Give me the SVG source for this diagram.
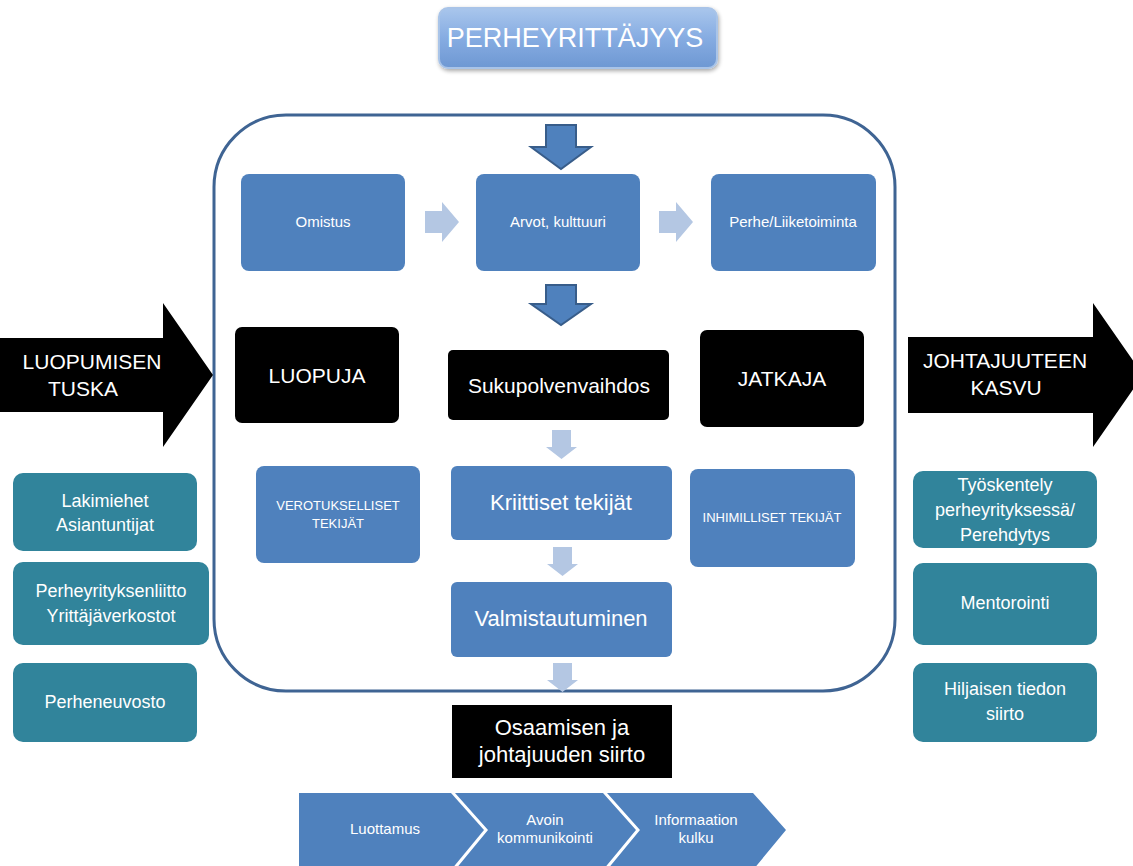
<svg xmlns="http://www.w3.org/2000/svg" width="1133" height="866" viewBox="0 0 1133 866">
<defs>
<linearGradient id="tg" x1="0" y1="0" x2="0" y2="1">
<stop offset="0" stop-color="#a9c6ec"/>
<stop offset="0.5" stop-color="#86ace2"/>
<stop offset="1" stop-color="#6e98d3"/>
</linearGradient>
<filter id="sh" x="-10%" y="-20%" width="120%" height="150%">
<feGaussianBlur in="SourceAlpha" stdDeviation="2"/>
<feOffset dx="1" dy="2"/>
<feComponentTransfer><feFuncA type="linear" slope="0.35"/></feComponentTransfer>
<feMerge><feMergeNode/><feMergeNode in="SourceGraphic"/></feMerge>
</filter>
<style>
text{font-family:"Liberation Sans",Arial,sans-serif;fill:#fff;text-anchor:middle}
.blue{fill:#4f81bd}
.teal{fill:#31849b}
.blk{fill:#000}
.light{fill:#b4c7e3}
.dark{fill:#4f81bd;stroke:#385d8a;stroke-width:2}
.s13{font-size:13px}
.s15{font-size:15px}
.s18{font-size:18px}
.s21{font-size:21px}
.s22{font-size:22px}
</style>
</defs>
<rect width="1133" height="866" fill="#fff"/>

<g id="title">
<rect x="439" y="8" width="278" height="60" rx="9" fill="url(#tg)" stroke="#a9c4e8" stroke-width="2" filter="url(#sh)"/>
<text x="575" y="47" style="font-size:27px">PERHEYRITTÄJYYS</text>
</g>

<g id="frame">
<rect x="214" y="115" width="681" height="576" rx="72" fill="none" stroke="#3f6493" stroke-width="3"/>
</g>

<g id="connectors">
<path class="dark" d="M546 125H576V147H591L561 169L531 147H546Z"/>
<path class="dark" d="M546 285H576V304H591L561 325L531 304H546Z"/>
<path class="light" d="M425 211H442V202L459 222L442 242V233H425Z"/>
<path class="light" d="M659 211H676V202L693 222L676 242V233H659Z"/>
<path class="light" d="M552 430H571V447H577L561.5 459L546 447H552Z"/>
<path class="light" d="M553 547H572V564H578L562.5 576L547 564H553Z"/>
<path class="light" d="M553 663H572V680H578L562.5 692L547 680H553Z"/>
</g>

<g id="omistus">
<rect class="blue" x="241" y="174" width="164" height="97" rx="8"/>
<text class="s15" x="323" y="227">Omistus</text>
</g>
<g id="arvot">
<rect class="blue" x="476" y="174" width="164" height="97" rx="8"/>
<text class="s15" x="558" y="227">Arvot, kulttuuri</text>
</g>
<g id="perhe">
<rect class="blue" x="711" y="174" width="165" height="97" rx="8"/>
<text class="s15" x="793" y="227">Perhe/Liiketoiminta</text>
</g>

<g id="luopumisen">
<path class="blk" d="M0 338H163V303L213 375L163 447V412H0Z"/>
<text class="s21" x="92" y="369">LUOPUMISEN</text>
<text class="s21" x="83" y="396">TUSKA</text>
</g>
<g id="johtajuuteen">
<path class="blk" d="M908 337H1093V303L1143 375L1093 447V413H908Z"/>
<text class="s21" x="1005" y="368">JOHTAJUUTEEN</text>
<text class="s21" x="1006" y="395">KASVU</text>
</g>

<g id="luopuja">
<rect class="blk" x="235" y="327" width="164" height="96" rx="7"/>
<text class="s21" x="317" y="383">LUOPUJA</text>
</g>
<g id="sukupolvenvaihdos">
<rect class="blk" x="448" y="350" width="221" height="70" rx="5"/>
<text class="s21" x="559" y="393">Sukupolvenvaihdos</text>
</g>
<g id="jatkaja">
<rect class="blk" x="700" y="330" width="164" height="97" rx="7"/>
<text class="s21" x="782" y="386">JATKAJA</text>
</g>

<g id="verotukselliset">
<rect class="blue" x="256" y="466" width="164" height="97" rx="8"/>
<text class="s13" x="338" y="510">VEROTUKSELLISET</text>
<text class="s13" x="338" y="528">TEKIJÄT</text>
</g>
<g id="kriittiset">
<rect class="blue" x="451" y="466" width="221" height="74" rx="6"/>
<text class="s22" x="561" y="510">Kriittiset tekijät</text>
</g>
<g id="inhimilliset">
<rect class="blue" x="690" y="469" width="165" height="98" rx="8"/>
<text class="s13" x="772" y="522">INHIMILLISET TEKIJÄT</text>
</g>
<g id="valmistautuminen">
<rect class="blue" x="451" y="582" width="221" height="75" rx="6"/>
<text class="s22" x="561" y="626">Valmistautuminen</text>
</g>

<g id="osaamisen">
<rect class="blk" x="452" y="705" width="220" height="73"/>
<text class="s22" x="562" y="735">Osaamisen ja</text>
<text class="s22" x="562" y="762">johtajuuden siirto</text>
</g>

<g id="luottamus">
<path class="blue" d="M299 793H451L484 830L451 870H299Z"/>
<text class="s15" x="385" y="834">Luottamus</text>
</g>
<g id="avoin">
<path class="blue" d="M455 793H603L636 830L603 870H455L488 830Z"/>
<text class="s15" x="545" y="825">Avoin</text>
<text class="s15" x="545" y="843">kommunikointi</text>
</g>
<g id="informaation">
<path class="blue" d="M607 793H753L786 830L753 870H607L640 830Z"/>
<text class="s15" x="696" y="825">Informaation</text>
<text class="s15" x="696" y="843">kulku</text>
</g>

<g id="lakimiehet">
<rect class="teal" x="13" y="473" width="184" height="78" rx="10"/>
<text class="s18" x="105" y="507">Lakimiehet</text>
<text class="s18" x="105" y="531">Asiantuntijat</text>
</g>
<g id="perheyrityksenliitto">
<rect class="teal" x="13" y="562" width="196" height="83" rx="10"/>
<text class="s18" x="111" y="597">Perheyrityksenliitto</text>
<text class="s18" x="111" y="622">Yrittäjäverkostot</text>
</g>
<g id="perheneuvosto">
<rect class="teal" x="13" y="663" width="184" height="79" rx="10"/>
<text class="s18" x="105" y="708">Perheneuvosto</text>
</g>

<g id="tyoskentely">
<rect class="teal" x="913" y="471" width="184" height="77" rx="10"/>
<text class="s18" x="1005" y="491">Työskentely</text>
<text class="s18" x="1005" y="516">perheyrityksessä/</text>
<text class="s18" x="1005" y="541">Perehdytys</text>
</g>
<g id="mentorointi">
<rect class="teal" x="913" y="563" width="184" height="82" rx="10"/>
<text class="s18" x="1005" y="609">Mentorointi</text>
</g>
<g id="hiljaisen">
<rect class="teal" x="913" y="663" width="184" height="79" rx="10"/>
<text class="s18" x="1005" y="695">Hiljaisen tiedon</text>
<text class="s18" x="1005" y="720">siirto</text>
</g>
</svg>
